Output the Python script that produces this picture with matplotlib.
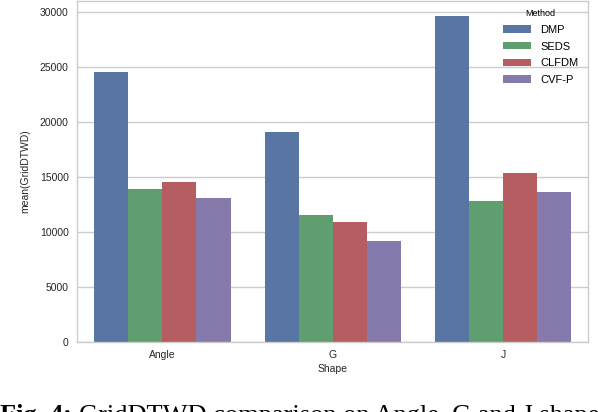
import matplotlib
matplotlib.use("Agg")
import matplotlib.pyplot as plt
import numpy as np

# values
shapes = ["Angle", "G", "J"]
methods = ["DMP", "SEDS", "CLFDM", "CVF-P"]
dmp = [24500, 19100, 29600]
seds = [13900, 11500, 12850]
clfdm = [14500, 10900, 15400]
cvfp = [13100, 9200, 13600]

series = [dmp, seds, clfdm, cvfp]
colors = ["#5975a4", "#5f9e6e", "#b55d60", "#857aab"]

plt.rcParams["font.family"] = ["Liberation Sans", "DejaVu Sans"]

fig = plt.figure(figsize=(5.98, 4.12), dpi=100)
ax = fig.add_axes([0.129, 0.170, 0.855, 0.8277])

x = np.arange(len(shapes))
width = 0.2
for k, (vals, name) in enumerate(zip(series, methods)):
    ax.bar(x - 0.3 + k * width, vals, width, color=colors[k], label=name,
           zorder=2)

ax.set_xlim(-0.5, 2.5)
ax.set_ylim(0, 31000)
ax.set_yticks([0, 5000, 10000, 15000, 20000, 25000, 30000])
ax.set_xticks(x)
ax.set_xticklabels(shapes)
ax.tick_params(length=0, labelsize=7.5, colors="#262626", pad=6)
ax.set_xlabel("Shape", fontsize=7.5, color="#262626", labelpad=3)
ax.set_ylabel("mean(GridDTWD)", fontsize=7.5, color="#262626", labelpad=7)

ax.grid(axis="y", color="#cccccc", linewidth=1, zorder=0)
for s in ax.spines.values():
    s.set_color("#cccccc")
    s.set_linewidth(1)

leg = ax.legend(title="Method", loc="upper right", frameon=False,
                fontsize=8, title_fontsize=6.5, handlelength=2.6,
                handleheight=0.6, bbox_to_anchor=(1.0, 1.005),
                labelspacing=0.6)

# caption below the chart, cut by the lower edge as in the source picture
cap_y = -0.025
t1 = fig.text(0.0, cap_y, "Fig. 4:", fontsize=19, family="Liberation Serif",
              weight="bold", va="baseline", ha="left")
fig.canvas.draw()
bb = t1.get_window_extent()
x2 = (bb.x1 + 7) / fig.bbox.width
fig.text(x2, cap_y, "GridDTWD comparison on Angle, G and J shapes",
         fontsize=19, family="Liberation Serif", va="baseline", ha="left")

fig.savefig("out.png", dpi=100)
